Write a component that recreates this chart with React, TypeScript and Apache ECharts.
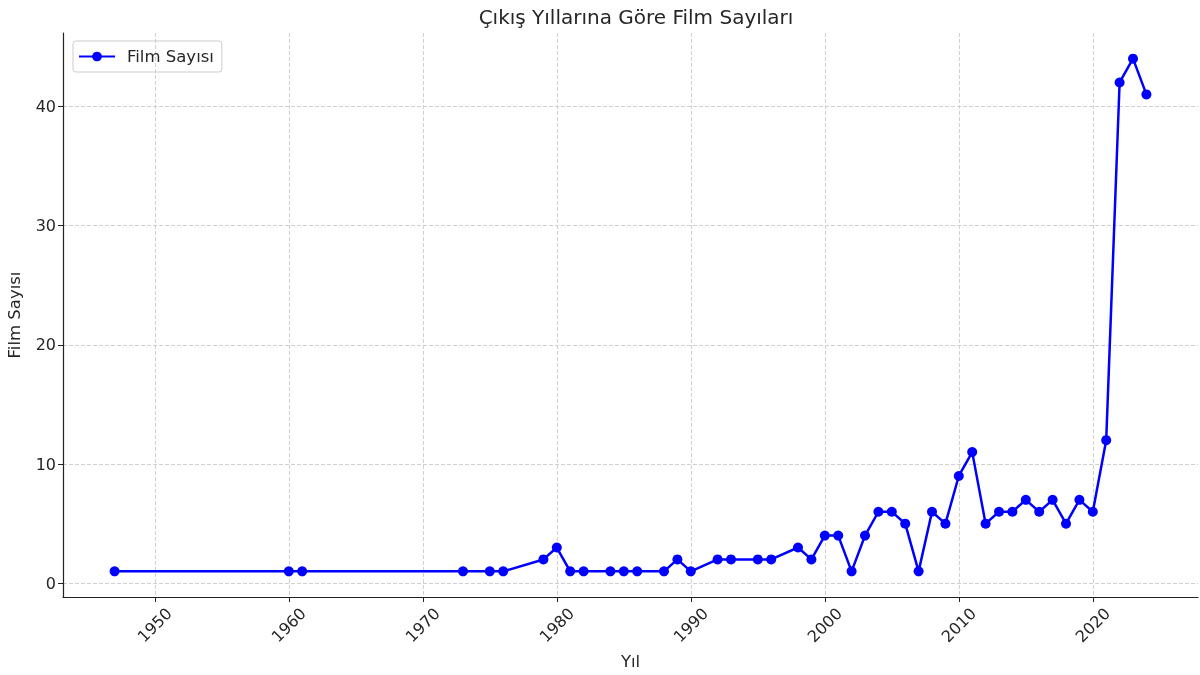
import React, { useEffect, useRef } from "react";
import * as echarts from "echarts";

const years = [1947, 1960, 1961, 1973, 1975, 1976, 1979, 1980, 1981, 1982, 1984, 1985, 1986, 1988, 1989, 1990, 1992, 1993, 1995, 1996, 1998, 1999, 2000, 2001, 2002, 2003, 2004, 2005, 2006, 2007, 2008, 2009, 2010, 2011, 2012, 2013, 2014, 2015, 2016, 2017, 2018, 2019, 2020, 2021, 2022, 2023, 2024];
const counts = [1, 1, 1, 1, 1, 1, 2, 3, 1, 1, 1, 1, 1, 1, 2, 1, 2, 2, 2, 2, 3, 2, 4, 4, 1, 4, 6, 6, 5, 1, 6, 5, 9, 11, 5, 6, 6, 7, 6, 7, 5, 7, 6, 12, 42, 44, 41];
const xTicks = [1950, 1960, 1970, 1980, 1990, 2000, 2010, 2020];
const yTicks = [0, 10, 20, 30, 40];

const FONT = "DejaVu Sans";
const TEXT = "#262626";

export default function App() {
  const ref = useRef<HTMLDivElement>(null);
  useEffect(() => {
    if (!ref.current) return;
    const chart = echarts.init(ref.current, undefined, { renderer: "svg" });
    const data = years.map((y, i) => [y, counts[i]]);
    chart.setOption({
      animation: false,
      textStyle: { fontFamily: FONT },
      title: {
        text: "Çıkış Yıllarına Göre Film Sayıları",
        left: 631,
        textAlign: "center",
        top: 2,
        textStyle: { fontFamily: FONT, fontSize: 20, fontWeight: "normal", color: TEXT },
      },
      legend: {
        left: 73,
        top: 41,
        padding: [7, 8, 7, 5],
        borderColor: "#cccccc",
        borderWidth: 1,
        borderRadius: 3,
        itemWidth: 36,
        itemHeight: 12,
        textStyle: { fontFamily: FONT, fontSize: 16.5, color: TEXT, padding: [0, 0, 0, 7] },
        data: ["Film Sayısı"],
      },
      grid: { left: 63, right: 2, top: 33, bottom: 78, containLabel: false, outerBoundsMode: "none" },
      xAxis: {
        type: "value",
        min: 1943.15,
        max: 2027.85,
        name: "Yıl",
        nameLocation: "middle",
        nameGap: 56,
        nameTextStyle: { fontFamily: FONT, fontSize: 16.5, color: TEXT },
        axisLine: { show: true, onZero: false, lineStyle: { color: "#222", width: 1.2 } },
        axisTick: { show: true, length: 5, customValues: xTicks, lineStyle: { color: "#222" } },
        axisLabel: {
          customValues: xTicks,
          formatter: (v: number) => String(v),
          rotate: 45,
          align: "center",
          verticalAlign: "middle",
          margin: 28,
          fontFamily: FONT,
          fontSize: 16,
          color: TEXT,
        },
        splitLine: { show: true, lineStyle: { color: "#d0d0d0", type: "dashed", width: 1 } },
      },
      yAxis: {
        type: "value",
        min: -1.15,
        max: 46.15,
        name: "Film Sayısı",
        nameLocation: "middle",
        nameGap: 40,
        nameRotate: 90,
        nameTextStyle: { fontFamily: FONT, fontSize: 16.5, color: TEXT },
        axisLine: { show: true, onZero: false, lineStyle: { color: "#222", width: 1.2 } },
        axisTick: { show: true, length: 5, customValues: yTicks, lineStyle: { color: "#222" } },
        axisLabel: { customValues: yTicks, formatter: (v: number) => String(v), margin: 7, fontFamily: FONT, fontSize: 16, color: TEXT },
        splitLine: { show: true, lineStyle: { color: "#d0d0d0", type: "dashed", width: 1 } },
      },
      series: [
        {
          name: "Film Sayısı",
          type: "line",
          data,
          symbol: "circle",
          symbolSize: 10,
          showSymbol: true,
          itemStyle: { color: "#0000ff" },
          lineStyle: { color: "#0000ff", width: 2.5 },
        },
      ],
    });
    return () => chart.dispose();
  }, []);
  return <div ref={ref} style={{ position: "fixed", left: 0, top: 0, width: 1200, height: 675 }} />;
}
